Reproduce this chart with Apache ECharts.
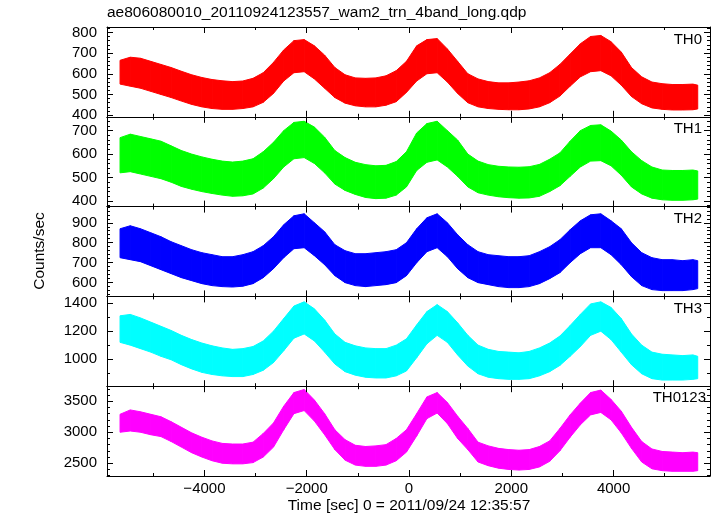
<!DOCTYPE html>
<html><head><meta charset="utf-8">
<script src="https://cdn.jsdelivr.net/npm/echarts@6/dist/echarts.min.js"></script>
<style>html,body{margin:0;padding:0;background:#fff}#c{width:717px;height:516px}</style>
</head><body><div id="c"></div>
<script>
// ---- data (band envelopes, counts/sec) ----
const times = [-5650,-5450,-5250,-5050,-4850,-4650,-4450,-4250,-4050,-3850,-3650,-3450,-3250,-3050,-2850,-2650,-2450,-2250,-2050,-1850,-1650,-1450,-1250,-1050,-850,-650,-450,-250,-50,150,350,550,750,950,1150,1350,1550,1750,1950,2150,2350,2550,2750,2950,3150,3350,3550,3750,3950,4150,4350,4550,4750,4950,5150,5350,5550,5645];

const th0Lo = [550,540,530,515,500,485,468,452,440,432, 428,428,432,440,462,505,565,605,610,575, 530,485,458,445,440,440,448,465,510,565, 600,605,560,505,460,440,432,428,426,426, 430,440,460,492,540,585,610,615,590,545, 490,455,435,428,425,425,426,430];
const th0Hi = [665,680,675,660,645,630,612,595,582,572, 566,562,565,578,605,655,715,760,765,735, 690,630,595,580,578,580,590,615,660,735, 765,770,720,660,600,575,562,556,556,560, 566,580,605,645,695,745,780,785,755,705, 630,585,560,552,548,548,550,545];

const th1Lo = [520,525,515,505,495,480,462,450,440,432, 425,420,422,430,455,495,545,580,585,560, 520,472,445,428,415,410,412,425,460,530, 565,575,545,505,460,435,425,418,414,412, 413,420,440,465,505,545,570,572,550,510, 460,430,412,405,403,403,405,408];
const th1Hi = [670,685,675,665,655,635,615,600,588,578, 570,566,570,580,610,650,700,735,740,715, 672,615,585,565,555,550,552,568,610,690, 730,740,700,660,600,570,555,548,545,544, 546,556,578,605,655,700,722,725,698,660, 610,572,545,532,530,530,532,528];

const th2Lo = [725,715,705,685,665,645,625,610,595,585, 580,578,582,595,625,670,725,770,775,735, 690,635,600,585,580,585,590,600,635,700, 755,775,730,670,625,600,590,580,575,575, 580,595,620,650,700,745,775,775,740,690, 630,585,565,560,560,560,565,570];
const th2Hi = [870,885,870,850,830,805,785,765,750,740, 730,730,740,755,785,830,890,935,945,900, 855,790,760,745,745,750,755,765,800,870, 925,945,900,840,790,755,740,735,730,730, 735,755,780,815,865,910,940,945,910,870, 800,750,725,715,715,710,715,710];

const th3Lo = [1120,1100,1075,1050,1020,995,960,930,905,890, 880,875,875,890,920,975,1060,1150,1180,1130, 1050,965,910,885,870,865,865,880,915,1010, 1110,1170,1120,1030,950,895,870,860,855,855, 860,880,910,955,1020,1090,1170,1200,1140,1050, 960,895,860,850,850,850,855,860];
const th3Hi = [1310,1320,1295,1265,1235,1205,1170,1140,1115,1095, 1080,1070,1075,1090,1130,1200,1290,1380,1410,1360, 1280,1180,1120,1095,1080,1075,1075,1100,1145,1245, 1340,1390,1340,1260,1170,1100,1070,1055,1050,1045, 1055,1080,1115,1165,1240,1320,1395,1410,1370,1290, 1180,1100,1050,1035,1030,1025,1030,1020];

const th0123Lo = [3000,3020,3000,2960,2930,2850,2760,2670,2600,2540, 2500,2490,2490,2510,2600,2760,3040,3300,3350,3180, 2960,2720,2550,2470,2450,2450,2470,2540,2680,2940, 3220,3310,3140,2900,2720,2520,2460,2420,2400,2390, 2400,2440,2530,2700,2920,3120,3280,3320,3200,2990, 2740,2520,2410,2380,2370,2370,2370,2380];
const th0123Hi = [3290,3360,3330,3290,3250,3170,3080,2990,2920,2860, 2820,2810,2810,2840,2980,3150,3420,3640,3690,3520, 3300,3040,2880,2790,2770,2780,2800,2900,3040,3300, 3570,3640,3480,3260,3060,2840,2780,2740,2720,2710, 2720,2770,2860,3060,3280,3470,3640,3680,3530,3340, 3080,2850,2730,2690,2680,2670,2680,2670];

const panelNames = ['TH0','TH1','TH2','TH3','TH0123'];
const panelLo = [th0Lo, th1Lo, th2Lo, th3Lo, th0123Lo];
const panelHi = [th0Hi, th1Hi, th2Hi, th3Hi, th0123Hi];
const colors = ['#ff0000','#00ff00','#0000ff','#00ffff','#ff00ff'];

const xMin = -5905, xMax = 5885;
const xMajorTicks = [-4000,-2000,0,2000,4000];
const xMinorTicks = [-5000,-3000,-1000,1000,3000,5000];
const yMins = [392,376,531,806,2294];
const yMaxs = [826,759,981,1449,3743];
const yLabelTicks = [[400,500,600,700,800],[400,500,600,700],[600,700,800,900],[1000,1200,1400],[2500,3000,3500]];
const yMinorStep = [20,20,20,100,100];

const titleText = 'ae806080010_20110924123557_wam2_trn_4band_long.qdp';
const xTitle = 'Time [sec] 0 = 2011/09/24 12:35:57';
const yTitle = 'Counts/sec';

// ---- layout ----
const FONT = "'Liberation Sans', Arial, Helvetica, sans-serif";
const GL = 107, GW = 603, GT = 27, GH = 89.8;

function minorValues(i){
  const out = [];
  const s = yMinorStep[i];
  for (let v = Math.ceil(yMins[i]/s)*s; v <= yMaxs[i]; v += s) out.push(v);
  return out;
}
const fmtX = v => String(v).replace('-', '\u2212');
const fmtY = v => String(v);

const grids = [], xAxes = [], yAxes = [], series = [], graphics = [];
for (let i = 0; i < 5; i++) {
  grids.push({left: GL, width: GW, top: GT + GH*i, height: GH});
  const last = i === 4;
  ['bottom','top'].forEach(pos => {
    xAxes.push({gridIndex:i, type:'value', position:pos, min:xMin, max:xMax, z:5,
      axisLine:{show:true, onZero:false, lineStyle:{color:'#000', width:1}},
      axisTick:{show:true, inside:true, length:6, customValues:xMajorTicks, lineStyle:{color:'#000', width:1}},
      axisLabel:{show: last && pos==='bottom', customValues:xMajorTicks, formatter:fmtX, margin:5,
        color:'#000', fontSize:15, fontFamily:FONT},
      splitLine:{show:false}});
    xAxes.push({gridIndex:i, type:'value', position:pos, min:xMin, max:xMax, z:5,
      axisLine:{show:false, onZero:false},
      axisTick:{show:true, inside:true, length:3, customValues:xMinorTicks, lineStyle:{color:'#000', width:1}},
      axisLabel:{show:false}, splitLine:{show:false}});
  });
  ['left','right'].forEach(pos => {
    yAxes.push({gridIndex:i, type:'value', position:pos, min:yMins[i], max:yMaxs[i], z:5,
      axisLine:{show:true, onZero:false, lineStyle:{color:'#000', width:1}},
      axisTick:{show:true, inside:true, length:6, customValues:yLabelTicks[i], lineStyle:{color:'#000', width:1}},
      axisLabel:{show: pos==='left', customValues:yLabelTicks[i], formatter:fmtY, margin:10,
        color:'#000', fontSize:15, fontFamily:FONT},
      splitLine:{show:false}});
    yAxes.push({gridIndex:i, type:'value', position:pos, min:yMins[i], max:yMaxs[i], z:5,
      axisLine:{show:false, onZero:false},
      axisTick:{show:true, inside:true, length:3, customValues:minorValues(i), lineStyle:{color:'#000', width:1}},
      axisLabel:{show:false}, splitLine:{show:false}});
  });
  const lo = panelLo[i], hi = panelHi[i], col = colors[i];
  series.push({type:'custom', xAxisIndex:4*i, yAxisIndex:4*i, silent:true, z:2,
    data: times.map((t,k) => [t, lo[k], hi[k]]),
    encode:{x:0, y:[1,2]},
    renderItem: function(params, api){
      const k = params.dataIndex;
      if (k >= times.length - 1) return null;
      const pts = [
        api.coord([times[k], hi[k]]), api.coord([times[k+1], hi[k+1]]),
        api.coord([times[k+1], lo[k+1]]), api.coord([times[k], lo[k]])
      ];
      return {type:'polygon', shape:{points:pts}, style:{fill:col, stroke:col, lineWidth:1}};
    }});
  graphics.push({type:'text', right: (i===4 ? 11 : 15), top: GT + GH*i + (i===4 ? 4 : 5),
    style:{text:panelNames[i], fill:'#000', font:'15px ' + FONT}});
}
graphics.push({type:'text', left: GL, top: 5, style:{text:titleText, fill:'#000', font:'15.5px ' + FONT}});
graphics.push({type:'text', x: 409, y: 506, style:{text:xTitle, fill:'#000', font:'15.5px ' + FONT, align:'center', verticalAlign:'middle'}});
graphics.push({type:'text', x: 40, y: 251, rotation: Math.PI/2,
  style:{text:yTitle, fill:'#000', font:'15.5px ' + FONT, align:'center', verticalAlign:'middle'}});

const chart = echarts.init(document.getElementById('c'), null, {renderer:'canvas'});
chart.setOption({
  backgroundColor:'#fff',
  animation:false,
  grid:grids, xAxis:xAxes, yAxis:yAxes, series:series, graphic:graphics
});
</script></body></html>
